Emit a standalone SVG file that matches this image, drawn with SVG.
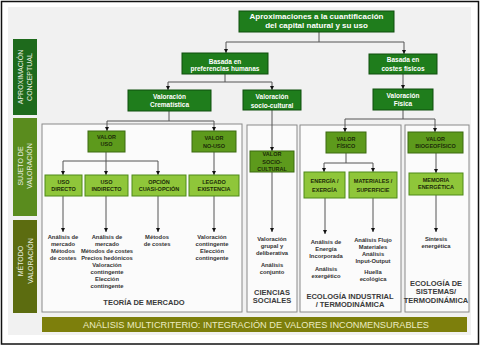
<svg xmlns="http://www.w3.org/2000/svg" width="481" height="346" viewBox="0 0 481 346">
<style>
text{font-family:"Liberation Sans",Arial,sans-serif;text-anchor:middle}
.dk{fill:#1f7d1c;stroke:#0f4f0d;stroke-width:1}
.md{fill:#5d9a1c;stroke:#3d6a10;stroke-width:1}
.lt{fill:#8fc63a;stroke:#4f8a18;stroke-width:1}
.wt{fill:#ffffff;font-weight:bold}
.bk{fill:#1c2a08;font-weight:bold;font-size:5.5px}
.sm{fill:#333;font-weight:bold;font-size:5.8px}
.big{fill:#3a3a3a;font-weight:bold;font-size:7.5px}
.side{fill:#e8efe0;font-size:7px}
.panel{fill:#fbfbfb;stroke:#8a8a8a;stroke-width:1}
.cn{fill:none;stroke:#555;stroke-width:1}
</style>
<defs>
<marker id="ah" viewBox="0 0 6 6" refX="6" refY="3" markerWidth="4" markerHeight="4" markerUnits="userSpaceOnUse" orient="auto">
<path d="M0,0 L6,3 L0,6 z" fill="#111"/>
</marker>
</defs>
<rect x="0" y="0" width="481" height="346" fill="#ffffff"/>
<rect x="1.5" y="1.5" width="477" height="342.5" fill="#ffffff" stroke="#111" stroke-width="1.5"/>
<rect x="8" y="7" width="463" height="328" fill="#f1f1f1"/>

<g id="side-labels">
<g id="lbl-aprox"><rect x="13" y="39" width="24" height="76" fill="#1e6a1c"/>
<text class="side" transform="translate(22.5,77) rotate(-90)">APROXIMACIÓN</text>
<text class="side" transform="translate(32,77) rotate(-90)">CONCEPTUAL</text></g>
<g id="lbl-sujeto"><rect x="13" y="118" width="24" height="98" fill="#5a8c1e"/>
<text class="side" transform="translate(22.5,166) rotate(-90)">SUJETO DE</text>
<text class="side" transform="translate(32,166) rotate(-90)">VALORACIÓN</text></g>
<g id="lbl-metodo"><rect x="13" y="220" width="24" height="93" fill="#5c6c10"/>
<text class="side" transform="translate(23,261) rotate(-90)">MÉTODO</text>
<text class="side" transform="translate(32.5,261) rotate(-90)">VALORACIÓN</text></g>
</g>

<g id="panels">
<rect id="panel-mercado" class="panel" x="42" y="124" width="200" height="188"/>
<rect id="panel-social" class="panel" x="247" y="125" width="50" height="187"/>
<rect id="panel-industrial" class="panel" x="300" y="125" width="101" height="187"/>
<rect id="panel-sistemas" class="panel" x="405" y="125" width="64" height="187"/>
</g>

<g id="connectors" class="cn">
<path d="M319,32 V42 M226,42 H404"/>
<path d="M226,42 V53" marker-end="url(#ah)"/>
<path d="M404,42 V54" marker-end="url(#ah)"/>
<path d="M225,74 V82 M168,82 H272"/>
<path d="M168,82 V90" marker-end="url(#ah)"/>
<path d="M272,82 V90" marker-end="url(#ah)"/>
<path d="M403,74 V89" marker-end="url(#ah)"/>
<path d="M169,111 V121 M107,121 H214"/>
<path d="M107,121 V131" marker-end="url(#ah)"/>
<path d="M214,121 V131" marker-end="url(#ah)"/>
<path d="M106,152 V161 M63,161 H158"/>
<path d="M63,161 V175" marker-end="url(#ah)"/>
<path d="M106,161 V175" marker-end="url(#ah)"/>
<path d="M158,161 V175" marker-end="url(#ah)"/>
<path d="M214,152 V175" marker-end="url(#ah)"/>
<path d="M63,196 V232" marker-end="url(#ah)"/>
<path d="M106,196 V232" marker-end="url(#ah)"/>
<path d="M158,196 V232" marker-end="url(#ah)"/>
<path d="M214,196 V232" marker-end="url(#ah)"/>
<path d="M272,110 V151" marker-end="url(#ah)"/>
<path d="M272,172 V232" marker-end="url(#ah)"/>
<path d="M403,110 V119 M345,119 H435"/>
<path d="M345,119 V132" marker-end="url(#ah)"/>
<path d="M435,119 V132" marker-end="url(#ah)"/>
<path d="M346,153 V163 M324,163 H373"/>
<path d="M324,163 V172" marker-end="url(#ah)"/>
<path d="M373,163 V172" marker-end="url(#ah)"/>
<path d="M436,153 V173" marker-end="url(#ah)"/>
<path d="M325,198 V234" marker-end="url(#ah)"/>
<path d="M373,198 V232" marker-end="url(#ah)"/>
<path d="M436,195 V232" marker-end="url(#ah)"/>
</g>

<g id="n-title"><rect class="dk" x="239" y="11" width="155" height="21"/>
<text class="wt" font-size="8" x="316.5" y="18.6">Aproximaciones a la cuantificación</text>
<text class="wt" font-size="8" x="316.5" y="28">del capital natural y su uso</text></g>

<g id="n-preferencias"><rect class="dk" x="182" y="53" width="86" height="21"/>
<text class="wt" font-size="6.5" x="225" y="64">Basada en</text>
<text class="wt" font-size="6.5" x="225" y="71.3">preferencias humanas</text></g>

<g id="n-costes"><rect class="dk" x="369" y="54" width="68" height="20"/>
<text class="wt" font-size="6.5" x="403" y="62.3">Basada en</text>
<text class="wt" font-size="6.5" x="403" y="70.6">costes físicos</text></g>

<g id="n-crematistica"><rect class="dk" x="128" y="90" width="83" height="21"/>
<text class="wt" font-size="6.5" x="169.5" y="99">Valoración</text>
<text class="wt" font-size="6.5" x="169.5" y="107.3">Crematística</text></g>

<g id="n-sociocultural"><rect class="dk" x="243" y="90" width="58" height="20"/>
<text class="wt" font-size="6.5" x="272" y="99">Valoración</text>
<text class="wt" font-size="6.5" x="272" y="108">socio-cultural</text></g>

<g id="n-fisica"><rect class="dk" x="373" y="89" width="60" height="21"/>
<text class="wt" font-size="6.5" x="403" y="98.3">Valoración</text>
<text class="wt" font-size="6.5" x="403" y="106.3">Física</text></g>

<g id="n-valor-uso"><rect class="md" x="88" y="131" width="37" height="21"/>
<text class="bk" x="106.5" y="139.2">VALOR</text>
<text class="bk" x="106.5" y="146.2">USO</text></g>

<g id="n-valor-no-uso"><rect class="md" x="192" y="131" width="44" height="21"/>
<text class="bk" x="214" y="140.2">VALOR</text>
<text class="bk" x="214" y="147.6">NO-USO</text></g>

<g id="n-uso-directo"><rect class="lt" x="45" y="175" width="37" height="21"/>
<text class="bk" x="63.5" y="183.6">USO</text>
<text class="bk" x="63.5" y="190.9">DIRECTO</text></g>

<g id="n-uso-indirecto"><rect class="lt" x="85" y="175" width="43" height="21"/>
<text class="bk" x="106.5" y="183.6">USO</text>
<text class="bk" x="106.5" y="190.9">INDIRECTO</text></g>

<g id="n-opcion"><rect class="lt" x="132" y="175" width="54" height="21"/>
<text class="bk" x="159" y="183.6">OPCIÓN</text>
<text class="bk" x="159" y="190.9">CUASI-OPCIÓN</text></g>

<g id="n-legado"><rect class="lt" x="189" y="175" width="50" height="21"/>
<text class="bk" x="214" y="183.6">LEGADO</text>
<text class="bk" x="214" y="190.9">EXISTENCIA</text></g>

<g id="n-valor-sociocultural"><rect class="md" x="250" y="151" width="44" height="21"/>
<text class="bk" x="272" y="156.2">VALOR</text>
<text class="bk" x="272" y="163.6">SOCIO-</text>
<text class="bk" x="272" y="170.9">CULTURAL</text></g>

<g id="n-valor-fisico"><rect class="md" x="326" y="132" width="40" height="21"/>
<text class="bk" x="346" y="140.9">VALOR</text>
<text class="bk" x="346" y="147.6">FÍSICO</text></g>

<g id="n-valor-biogeofisico"><rect class="md" x="408" y="132" width="55" height="21"/>
<text class="bk" x="435.5" y="140.9">VALOR</text>
<text class="bk" x="435.5" y="147.6">BIOGEOFÍSICO</text></g>

<g id="n-energia"><rect class="lt" x="304" y="172" width="41" height="26"/>
<text class="bk" x="324.5" y="182.6">ENERGÍA /</text>
<text class="bk" x="324.5" y="191.9">EXERGÍA</text></g>

<g id="n-materiales"><rect class="lt" x="349" y="172" width="48" height="26"/>
<text class="bk" x="373" y="182.6">MATERIALES /</text>
<text class="bk" x="373" y="191.9">SUPERFICIE</text></g>

<g id="n-memoria"><rect class="lt" x="409" y="173" width="54" height="22"/>
<text class="bk" x="436" y="181.9">MEMORIA</text>
<text class="bk" x="436" y="189.2">ENERGÉTICA</text></g>

<g id="methods-mercado">
<text class="sm" x="63" y="239">Análisis de</text>
<text class="sm" x="63" y="246">mercado</text>
<text class="sm" x="63" y="253">Métodos</text>
<text class="sm" x="63" y="260">de costes</text>
<text class="sm" x="107" y="239">Análisis de</text>
<text class="sm" x="107" y="246">mercado</text>
<text class="sm" x="107" y="253">Métodos de costes</text>
<text class="sm" x="107" y="260">Precios hedónicos</text>
<text class="sm" x="107" y="267">Valoración</text>
<text class="sm" x="107" y="274">contingente</text>
<text class="sm" x="107" y="281">Elección</text>
<text class="sm" x="107" y="288">contingente</text>
<text class="sm" x="157" y="239">Métodos</text>
<text class="sm" x="157" y="246">de costes</text>
<text class="sm" x="212" y="239">Valoración</text>
<text class="sm" x="212" y="246">contingente</text>
<text class="sm" x="212" y="253">Elección</text>
<text class="sm" x="212" y="260">contingente</text>
<text class="big" x="144" y="304.7">TEORÍA DE MERCADO</text>
</g>

<g id="methods-social">
<text class="sm" x="272" y="241">Valoración</text>
<text class="sm" x="272" y="248">grupal y</text>
<text class="sm" x="272" y="255">deliberativa</text>
<text class="sm" x="272" y="267">Análisis</text>
<text class="sm" x="272" y="274">conjunto</text>
<text class="big" x="272" y="294.5">CIENCIAS</text>
<text class="big" x="272" y="302.5">SOCIALES</text>
</g>

<g id="methods-industrial">
<text class="sm" x="326" y="244">Análisis de</text>
<text class="sm" x="326" y="251">Energía</text>
<text class="sm" x="326" y="258">Incorporada</text>
<text class="sm" x="326" y="271">Análisis</text>
<text class="sm" x="326" y="278">exergético</text>
<text class="sm" x="373" y="242">Análisis Flujo</text>
<text class="sm" x="373" y="249">Materiales</text>
<text class="sm" x="373" y="256">Análisis</text>
<text class="sm" x="373" y="263">Input-Output</text>
<text class="sm" x="373" y="274">Huella</text>
<text class="sm" x="373" y="281">ecológica</text>
<text class="big" x="350" y="298.5">ECOLOGÍA INDUSTRIAL</text>
<text class="big" x="350" y="306.5">/ TERMODINÁMICA</text>
</g>

<g id="methods-sistemas">
<text class="sm" x="436" y="241">Síntesis</text>
<text class="sm" x="436" y="248">energética</text>
<text class="big" x="436" y="285.5">ECOLOGÍA DE</text>
<text class="big" x="436" y="294">SISTEMAS/</text>
<text class="big" x="436" y="303" font-size="6.6">TERMODINÁMICA</text>
</g>

<g id="n-banner"><rect x="42" y="317" width="425" height="15" fill="#7d7f0c"/>
<text x="256" y="328.2" font-size="9.2" fill="#ecebc0">ANÁLISIS MULTICRITERIO: INTEGRACIÓN DE VALORES INCONMENSURABLES</text></g>
</svg>
